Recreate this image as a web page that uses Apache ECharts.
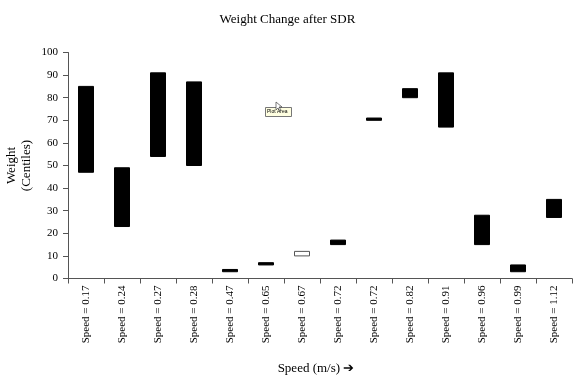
<!DOCTYPE html>
<html><head><meta charset="utf-8">
<script src="https://cdn.jsdelivr.net/npm/echarts@6/dist/echarts.min.js"></script>
<style>html,body{margin:0;padding:0;background:#fff}#c{width:575px;height:387px}</style>
</head><body><div id="c"></div>
<script>
const categories = ['Speed = 0.17','Speed = 0.24','Speed = 0.27','Speed = 0.28','Speed = 0.47','Speed = 0.65','Speed = 0.67','Speed = 0.72','Speed = 0.72','Speed = 0.82','Speed = 0.91','Speed = 0.96','Speed = 0.99','Speed = 1.12'];
const weightBefore = [85, 49, 91, 87, 4, 7, 10, 17, 71, 84, 91, 28, 6, 35];
const weightAfter  = [47, 23, 54, 50, 3, 6, 12, 15, 70, 80, 67, 15, 3, 27];
const yTicks = [0,10,20,30,40,50,60,70,80,90,100];

const data = categories.map((c,i)=>{
  const o = weightBefore[i], cl = weightAfter[i];
  return [o, cl, Math.min(o,cl), Math.max(o,cl)];
});
const serif = "'Liberation Serif','Times New Roman',serif";
const chart = echarts.init(document.getElementById('c'), null, {renderer:'canvas'});
chart.setOption({
  backgroundColor:'#fff',
  animation:false,
  title:{text:'Weight Change after SDR', left:'center', top:8,
    textStyle:{fontFamily:serif, fontSize:13, fontWeight:'normal', color:'#000'}},
  grid:{left:68, right:3, top:52.5, bottom:108.5, containLabel:false, outerBoundsMode:'none'},
  xAxis:{type:'category', data:categories, boundaryGap:true,
    name:'Speed (m/s) \u2794', nameLocation:'middle', nameGap:84, nameMoveOverlap:false,
    nameTextStyle:{fontFamily:serif, fontSize:13, color:'#000', padding:[0,8,0,0]},
    axisLine:{lineStyle:{color:'#555', width:1}},
    axisTick:{show:true, alignWithLabel:false, length:5, lineStyle:{color:'#555'}},
    axisLabel:{rotate:90, interval:0, fontFamily:serif, fontSize:11, color:'#000', margin:7}},
  yAxis:{type:'value', min:0, max:100, interval:10,
    name:'Weight\n(Centiles)', nameLocation:'middle', nameGap:34, nameRotate:90, nameMoveOverlap:false,
    nameTextStyle:{fontFamily:serif, fontSize:13, color:'#000', lineHeight:15},
    axisLine:{show:true, lineStyle:{color:'#555', width:1}},
    axisTick:{show:true, length:5, lineStyle:{color:'#555'}},
    splitLine:{show:false},
    axisLabel:{fontFamily:serif, fontSize:11, color:'#000', margin:10,
      formatter:v=>yTicks.includes(v)?String(v):''}},
  series:[{type:'candlestick', data:data, barWidth:'42%',
    itemStyle:{color:'#fff', color0:'#000', borderColor:'#555', borderColor0:'#000', borderWidth:1}}],
  graphic:[
    {type:'group', left:265, top:107, children:[
      {type:'rect', shape:{x:0,y:0,width:26,height:9}, style:{fill:'#ffffe1', stroke:'#777', lineWidth:1}},
      {type:'text', x:1.5, y:1.5, style:{text:'Plot Area', font:"5px 'Liberation Sans',sans-serif", fill:'#000'}}
    ]},
    {type:'polygon', shape:{points:[[276,102],[276,110],[278,108],[280,111],[281,110],[279,107],[282,107]]},
      style:{fill:'#fff', stroke:'#444', lineWidth:0.7}}
  ]
});
</script></body></html>
